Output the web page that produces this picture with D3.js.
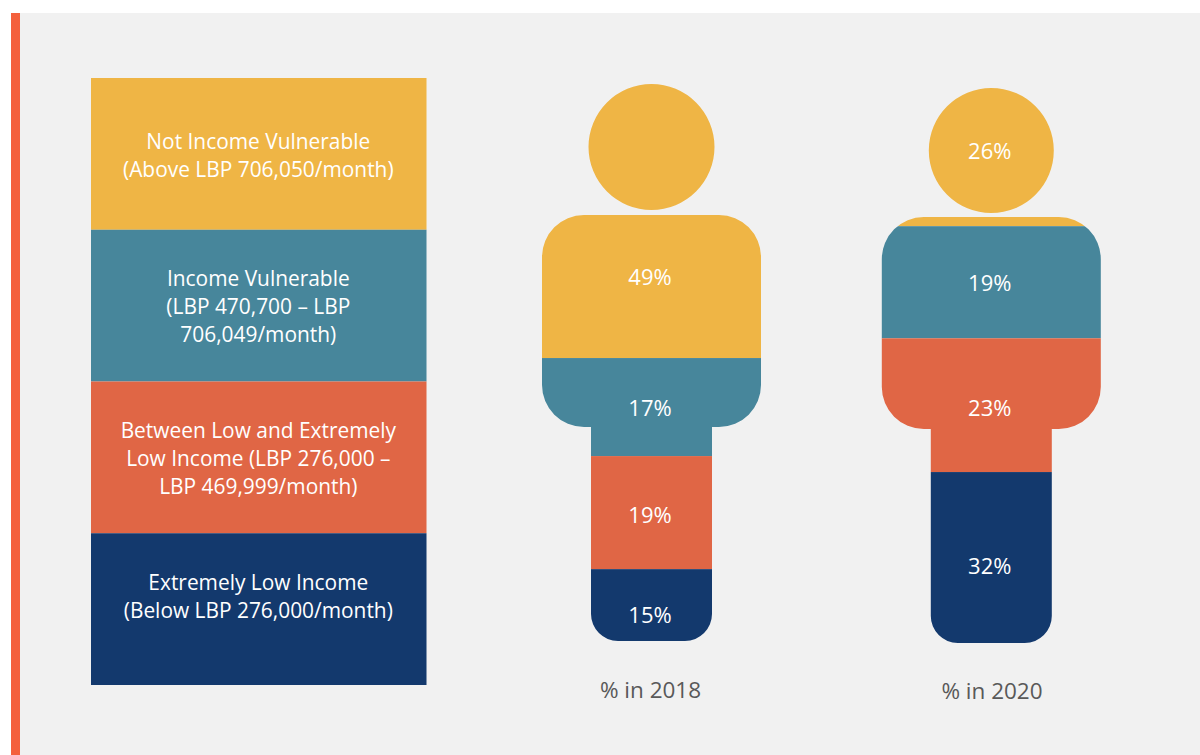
<!DOCTYPE html>
<html><head><meta charset="utf-8">
<script src="https://cdn.jsdelivr.net/npm/d3@7"></script>
<style>html,body{margin:0;padding:0;background:#fff;overflow:hidden}svg{display:block}</style>
</head><body><div id="chart"></div>
<script>
const categories = ["Not Income Vulnerable","Income Vulnerable","Between Low and Extremely Low Income","Extremely Low Income"];
const legendLines = [
  ["Not Income Vulnerable","(Above LBP 706,050/month)"],
  ["Income Vulnerable","(LBP 470,700 – LBP","706,049/month)"],
  ["Between Low and Extremely","Low Income (LBP 276,000 –","LBP 469,999/month)"],
  ["Extremely Low Income","(Below LBP 276,000/month)"]
];
const colors = ["#efb545","#47869b","#e06645","#13396d"];
const years = ["% in 2018","% in 2020"];
const labels2018 = [49,17,19,15];
const labels2020 = [26,19,23,32];
// filled share of the figure's height per band, as drawn in the picture (top to bottom)
const drawn2018 = [49.2,17.6,20.3,12.9];
const drawn2020 = [24.9,20.2,24.1,30.8];
// where each value label sits, in the same share-of-height units measured from the top
const labelAt2018 = [34.7,58.2,77.4,95.4];
const labelAt2020 = [11.4,35.2,57.7,86.2];

const W=1200,H=755;
const svg=d3.select("#chart").append("svg").attr("width",W).attr("height",H);
svg.append("rect").attr("x",11).attr("y",13).attr("width",W-11).attr("height",H-13).attr("fill","#f1f1f1");
svg.append("rect").attr("x",11).attr("y",13).attr("width",9).attr("height",H-13).attr("fill","#f4603c");

const font="'Open Sans',sans-serif";
// legend
const legY=d3.scaleBand().domain(categories).range([78,685]).padding(0);
const leg=svg.append("g").selectAll("g").data(categories).join("g");
leg.append("rect").attr("x",91).attr("width",335.5).attr("y",d=>legY(d)).attr("height",legY.bandwidth())
  .attr("fill",(d,i)=>colors[i]);
const legFirst=[141.2,279,430.8,582.6];
leg.each(function(d,i){
  d3.select(this).selectAll("text").data(legendLines[i]).join("text")
    .attr("x",258.3).attr("y",(t,j)=>legFirst[i]+j*28).attr("dy","0.35em")
    .attr("text-anchor","middle").attr("fill","#fff").attr("font-family",font).attr("font-size",20.9)
    .text(t=>t);
});

const figs=[
 {cx:651.5,top:84,bottom:641,headCy:147,headR:63,bodyTop:215,drawn:drawn2018,labels:labels2018,at:labelAt2018,name:years[0],nameX:650.5,nameY:690},
 {cx:991.3,top:88,bottom:643,headCy:150.5,headR:62.5,bodyTop:217,drawn:drawn2020,labels:labels2020,at:labelAt2020,name:years[1],nameX:992,nameY:691}
];
const defs=svg.append("defs");
figs.forEach((f,k)=>{
  const y=d3.scaleLinear().domain([0,100]).range([f.top,f.bottom]);
  const cx=f.cx, sw=109.5, nw=60.5, sb=f.bodyTop+212, r=42, br=27;
  const p=d3.path();
  p.moveTo(cx-sw+r,f.bodyTop);
  p.arcTo(cx+sw,f.bodyTop,cx+sw,sb,r);
  p.arcTo(cx+sw,sb,cx+nw,sb,r);
  p.lineTo(cx+nw,sb);
  p.arcTo(cx+nw,f.bottom,cx-nw,f.bottom,br);
  p.arcTo(cx-nw,f.bottom,cx-nw,sb,br);
  p.lineTo(cx-nw,sb);
  p.arcTo(cx-sw,sb,cx-sw,f.bodyTop,r);
  p.arcTo(cx-sw,f.bodyTop,cx,f.bodyTop,r);
  p.closePath();
  const cp=defs.append("clipPath").attr("id","person"+k);
  cp.append("path").attr("d",p.toString());
  cp.append("circle").attr("cx",cx).attr("cy",f.headCy).attr("r",f.headR);
  const stack=d3.cumsum(f.drawn);
  const g=svg.append("g");
  g.append("g").attr("clip-path",`url(#person${k})`).selectAll("rect").data(f.drawn).join("rect")
    .attr("x",cx-sw-1).attr("width",2*sw+2)
    .attr("y",(d,i)=>y(stack[i]-d)).attr("height",d=>y(d)-y(0))
    .attr("fill",(d,i)=>colors[i]);
  g.selectAll("text.v").data(f.labels).join("text").attr("class","v")
    .attr("x",cx-1.5).attr("y",(d,i)=>y(f.at[i])).attr("dy","0.35em")
    .attr("text-anchor","middle").attr("fill","#fff").attr("font-family",font).attr("font-size",22)
    .text(d=>d+"%");
  g.append("text").attr("x",f.nameX).attr("y",f.nameY).attr("dy","0.35em").attr("text-anchor","middle")
    .attr("fill","#595959").attr("font-family",font).attr("font-size",22.5).text(f.name);
});
</script></body></html>
